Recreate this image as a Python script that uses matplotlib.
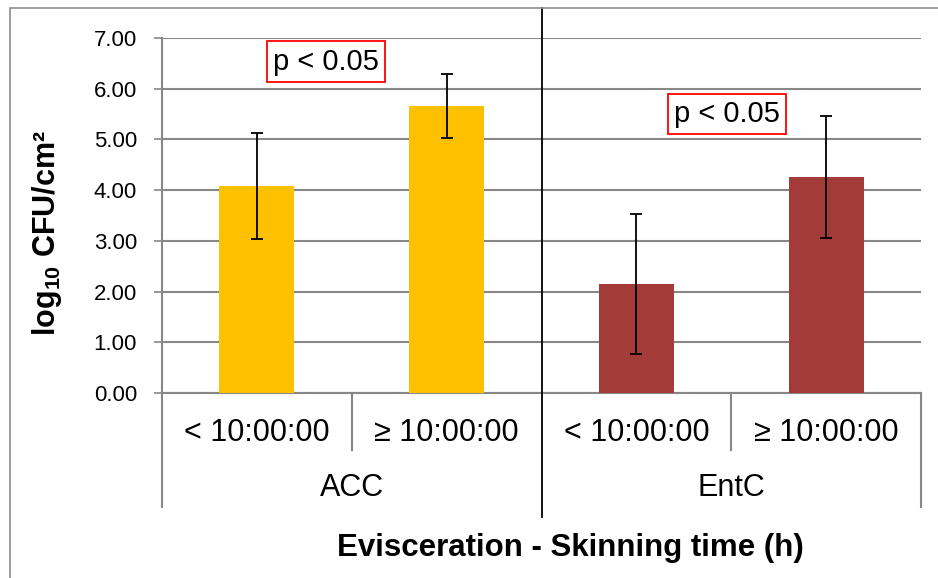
import matplotlib
matplotlib.use('Agg')
import matplotlib.pyplot as plt
from matplotlib.patches import Rectangle

plt.rcParams['font.family'] = ['Liberation Sans', 'DejaVu Sans']
plt.rcParams['mathtext.fontset'] = 'custom'
plt.rcParams['mathtext.rm'] = 'Liberation Sans'
plt.rcParams['mathtext.bf'] = 'Liberation Sans:bold'

groups = ['ACC', 'EntC']
sub_labels = ['< 10:00:00', '\u2265 10:00:00', '< 10:00:00', '\u2265 10:00:00']
means = [4.08, 5.66, 2.15, 4.26]
errors = [1.04, 0.64, 1.38, 1.20]
bar_colors = ['#FFC000', '#FFC000', '#A33B39', '#A33B39']
p_text = 'p < 0.05'

grid_col = '#878787'

fig = plt.figure(figsize=(9.38, 5.78), dpi=100)
ax = fig.add_axes([162/938, 1-393/578, (921-162)/938, 355/578])

x = list(range(len(means)))
ax.bar(x, means, width=0.395, color=bar_colors, yerr=errors, capsize=4.3,
       error_kw=dict(elinewidth=1.3, capthick=1.3, ecolor='black'), zorder=3)

ax.set_xlim(-0.5, 3.5)
ax.set_ylim(0, 7)
ax.set_yticks(range(0, 8))
ax.set_yticklabels(['%.2f' % v for v in range(0, 8)], fontsize=16)
ax.set_xticks([])
ax.yaxis.grid(True, color=grid_col, linewidth=1.5, zorder=0)
ax.set_axisbelow(True)
ax.tick_params(axis='y', length=6, width=1.2, color=grid_col, pad=12)
for s in ['top', 'right']:
    ax.spines[s].set_visible(False)
ax.spines['left'].set_color(grid_col)
ax.spines['bottom'].set_color(grid_col)
ax.spines['left'].set_linewidth(1.5)
ax.spines['bottom'].set_linewidth(1.5)

# category axis lines below the plot
tr = ax.get_xaxis_transform()
ax.plot([-0.5, -0.5], [0, -0.321], transform=tr, color=grid_col, lw=1.5, clip_on=False)
ax.plot([3.5, 3.5], [0, -0.321], transform=tr, color=grid_col, lw=1.5, clip_on=False)
for xs in [0.5, 2.5]:
    ax.plot([xs, xs], [0, -0.161], transform=tr, color=grid_col, lw=1.5, clip_on=False)
# black separator between groups
ax.plot([1.5, 1.5], [1.0845, -0.349], transform=tr, color='black', lw=1.3, clip_on=False, zorder=5)

for xi, lab in zip(x, sub_labels):
    ax.text(xi, -0.113, lab, transform=tr, ha='center', va='center', fontsize=22)
for gi, g in enumerate(groups):
    ax.text(gi*2 + 0.5, -0.268, g, transform=tr, ha='center', va='center', fontsize=22)

# significance boxes
box = dict(boxstyle='square,pad=0.22', facecolor='white', edgecolor='#FF0000', linewidth=1.3)
ax.text(0.364, 6.53, p_text, ha='center', va='center', fontsize=21, bbox=box, zorder=6)
ax.text(2.478, 5.50, p_text, ha='center', va='center', fontsize=21, bbox=box, zorder=6)

fig.text(47/938, 1-233/578, r'log$_{\mathbf{10}}$ CFU/cm²', rotation=90,
         ha='center', va='center', fontsize=22, fontweight='bold')
fig.text(570/938, 1-548/578, 'Evisceration - Skinning time (h)',
         ha='center', va='center', fontsize=22.5, fontweight='bold')

# chart border
fig.patches.append(Rectangle((10/938, -0.1), 1.5, 1.1 - 8/578, transform=fig.transFigure,
                             fill=False, edgecolor='#8c8c8c', linewidth=1.2))

fig.savefig('out.png', dpi=100)
